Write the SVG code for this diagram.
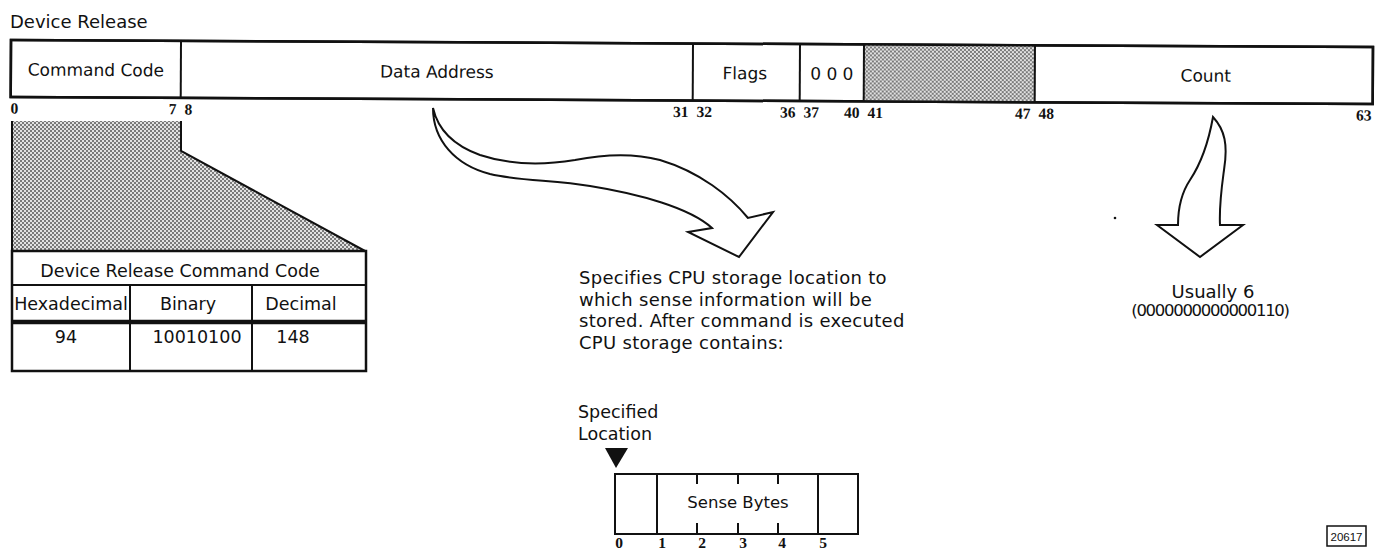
<svg xmlns="http://www.w3.org/2000/svg" width="1380" height="554" viewBox="0 0 1380 554">
<defs>
<pattern id="dots" width="4" height="4" patternUnits="userSpaceOnUse">
<rect width="4" height="4" fill="#e2e2e2"/>
<rect width="2" height="2" fill="#7a7a7a"/>
<rect x="2" y="2" width="2" height="2" fill="#7a7a7a"/>
</pattern>
<style>
.t{font-family:"DejaVu Sans",sans-serif;fill:#111}
.n{font-family:"Liberation Serif",serif;font-weight:bold;font-size:15.5px;fill:#111}
.box{fill:#fff;stroke:#111;stroke-width:2.5}
.ln{stroke:#111;stroke-width:2;fill:none}
.arr{fill:#fff;stroke:#111;stroke-width:2;stroke-linejoin:miter}
</style>
</defs>
<rect width="1380" height="554" fill="#fff"/>

<text class="t" x="10" y="28" font-size="18">Device Release</text>

<g id="instruction-word" transform="rotate(0.295 11 40)">
<rect class="box" x="11" y="40" width="1362" height="57"/>
<rect x="864" y="40" width="171" height="57" fill="url(#dots)"/>
<rect x="11" y="40" width="1362" height="57" fill="none" stroke="#111" stroke-width="2.5"/>
<g class="ln">
<line x1="181" y1="40" x2="181" y2="97"/>
<line x1="693" y1="40" x2="693" y2="97"/>
<line x1="800" y1="40" x2="800" y2="97"/>
<line x1="864" y1="40" x2="864" y2="97"/>
<line x1="1035" y1="40" x2="1035" y2="97"/>
</g>
<g class="t" font-size="17" text-anchor="middle">
<text x="96" y="75.5">Command Code</text>
<text x="437" y="75.5">Data Address</text>
<text x="745" y="75.5">Flags</text>
<text x="832" y="75.5">0 0 0</text>
<text x="1206" y="75.5">Count</text>
</g>
<g class="n">
<text x="11" y="113.5">0</text>
<text x="177" y="113.5" text-anchor="end">7</text>
<text x="185" y="113.5">8</text>
<text x="689" y="113.5" text-anchor="end">31</text>
<text x="697" y="113.5">32</text>
<text x="796" y="113.5" text-anchor="end">36</text>
<text x="804" y="113.5">37</text>
<text x="860" y="113.5" text-anchor="end">40</text>
<text x="868" y="113.5">41</text>
<text x="1031" y="113.5" text-anchor="end">47</text>
<text x="1039" y="113.5">48</text>
<text x="1372" y="113.5" text-anchor="end">63</text>
</g>
</g>

<g id="command-code-expansion">
<polygon points="12,121 181,121 181,151 365,251 12,251" fill="url(#dots)"/>
<polyline class="ln" points="12,121 12,251"/>
<polyline class="ln" points="181,121 181,151 365,251"/>
</g>

<g id="command-code-table">
<rect x="12" y="251" width="354" height="120" fill="#fff" stroke="#111" stroke-width="2.5"/>
<line class="ln" x1="12" y1="285" x2="366" y2="285"/>
<line x1="12" y1="322" x2="366" y2="322" stroke="#111" stroke-width="4.5"/>
<line class="ln" x1="130" y1="285" x2="130" y2="371"/>
<line class="ln" x1="252" y1="285" x2="252" y2="371"/>
<g class="t" font-size="17.5" text-anchor="middle">
<text x="180" y="277">Device Release Command Code</text>
<text x="71" y="310">Hexadecimal</text>
<text x="188" y="310">Binary</text>
<text x="301" y="310">Decimal</text>
<text x="66" y="343">94</text>
<text x="197" y="343">10010100</text>
<text x="293" y="343">148</text>
</g>
</g>

<g id="connectors">
<path class="arr" d="M433,108 C433,140 455,165 490,174 C520,181 555,180 590,186 C640,194 690,208 712,228 L688,232 L739,257 L773,212 L748,218 C730,196 700,172 660,160 C630,152 600,155 575,160 C545,165 510,165 480,155 C455,146 438,130 433,108 Z"/>
<path class="arr" d="M1213,117 C1208,145 1200,165 1190,180 C1180,195 1178,210 1178,225 L1157,225 L1200,257 L1243,225 L1220,225 C1219,205 1222,185 1224,170 C1228,145 1225,130 1213,117 Z"/>
</g>

<circle cx="1115" cy="218" r="1.3" fill="#111"/>

<g id="data-address-note" class="t" font-size="18" letter-spacing="0.3">
<text x="579" y="284">Specifies CPU storage location to</text>
<text x="579" y="305.5">which sense information will be</text>
<text x="579" y="327">stored.  After command is executed</text>
<text x="579" y="348.5">CPU storage contains:</text>
</g>

<g id="count-note" class="t" text-anchor="middle">
<text x="1213" y="298" font-size="18">Usually 6</text>
<text x="1210" y="316" font-size="16.5" letter-spacing="-1.3">(0000000000000110)</text>
</g>

<g id="specified-location">
<text class="t" x="578" y="418" font-size="17.5">Specified</text>
<text class="t" x="578" y="440" font-size="17.5">Location</text>
<polygon points="605,448 628,448 616,468" fill="#111"/>
</g>

<g id="sense-bytes">
<rect x="615" y="474" width="243" height="60" fill="#fff" stroke="#111" stroke-width="2"/>
<g class="ln">
<line x1="657" y1="474" x2="657" y2="534"/>
<line x1="818" y1="474" x2="818" y2="534"/>
<line x1="697" y1="474" x2="697" y2="484"/>
<line x1="738" y1="474" x2="738" y2="484"/>
<line x1="778" y1="474" x2="778" y2="484"/>
<line x1="697" y1="523" x2="697" y2="534"/>
<line x1="738" y1="523" x2="738" y2="534"/>
<line x1="778" y1="523" x2="778" y2="534"/>
</g>
<text class="t" x="738" y="508" font-size="16.5" text-anchor="middle">Sense Bytes</text>
<g class="n" text-anchor="middle" font-size="15">
<text x="619" y="548">0</text>
<text x="662" y="548">1</text>
<text x="702" y="548">2</text>
<text x="743" y="548">3</text>
<text x="782" y="548">4</text>
<text x="823" y="548">5</text>
</g>
</g>

<g id="figure-id">
<rect x="1327" y="526" width="39" height="20" fill="#fff" stroke="#111" stroke-width="1.5"/>
<text x="1346.5" y="540.5" font-family="Liberation Sans, sans-serif" font-size="11.5" text-anchor="middle" fill="#111">20617</text>
</g>
</svg>
